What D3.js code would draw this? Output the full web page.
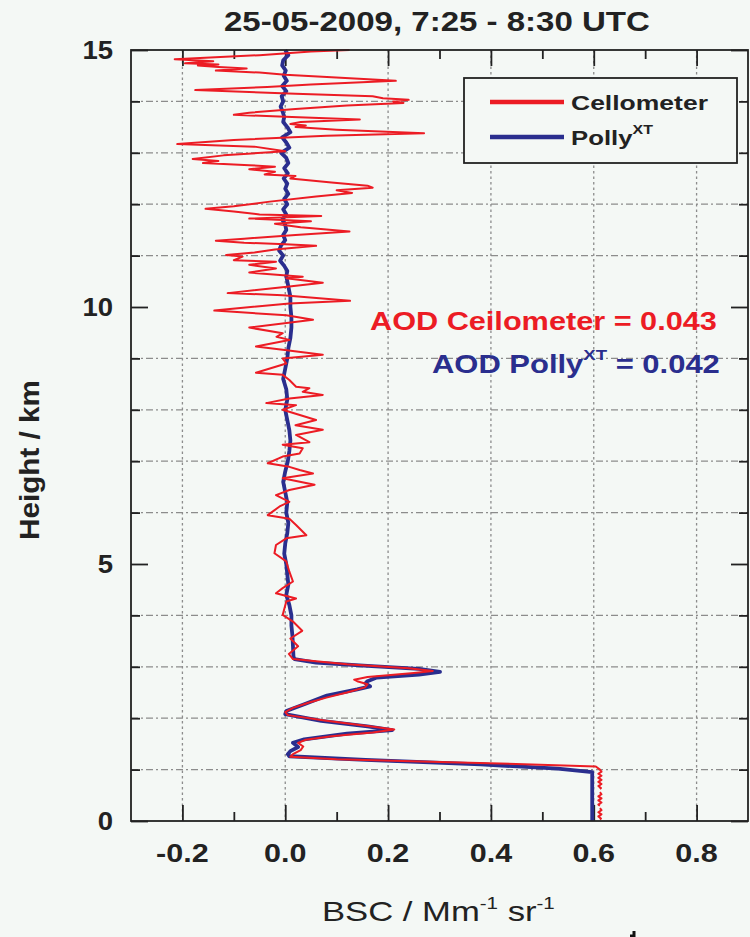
<!DOCTYPE html>
<html>
<head>
<meta charset="utf-8">
<script src="https://cdn.jsdelivr.net/npm/d3@7"></script>
<style>
  html, body { margin: 0; padding: 0; background: #f4f8f5; }
  svg { display: block; font-family: "Liberation Sans", Arial, Helvetica, sans-serif; }
</style>
</head>
<body>
<svg id="chart" width="750" height="937"></svg>
<script>
// ---- data -------------------------------------------------------------
const titleText = "25-05-2009, 7:25 - 8:30 UTC";
const bscDomain = [-0.3, 0.9];
const heightDomain = [0, 15];
const bscMajorTicks = [-0.2, 0.0, 0.2, 0.4, 0.6, 0.8];
const bscMinorTicks = [-0.1, 0.1, 0.3, 0.5, 0.7];
const heightMajorTicks = [0, 5, 10, 15];
const heightMinorTicks = [1, 2, 3, 4, 6, 7, 8, 9, 11, 12, 13, 14];
const seriesNames = ["Cellometer", "Polly"];
const seriesSup = ["", "XT"];
const seriesColors = ["#ec1c24", "#2a2e8e"];
const aodLabels = ["AOD Ceilometer", "AOD Polly"];
const aodValues = [0.043, 0.042];

// [height km, backscatter Mm-1 sr-1]; null marks a gap in the record
const ceilometerProfile = [
  [15.00,0.125],[14.97,0.05],[14.90,-0.05],[14.82,-0.215],[14.78,-0.14],[14.74,-0.195],
  [14.72,-0.13],[14.70,-0.17],[14.67,-0.13],[14.64,-0.075],[14.60,-0.135],[14.56,-0.05],
  [14.52,0.0],[14.47,0.09],[14.40,0.215],[14.33,0.05],[14.28,-0.035],[14.22,-0.175],
  [14.15,0.02],[14.10,0.17],[14.06,0.19],[14.03,0.24],[14.00,0.21],[13.97,0.23],
  [13.92,0.12],[13.85,0.02],[13.78,-0.07],[13.74,-0.10],[13.70,0.0],[13.65,0.145],
  [13.60,0.03],[13.56,0.01],[13.53,0.04],[13.50,0.02],[13.45,0.10],[13.38,0.27],
  [13.33,0.08],[13.25,-0.10],[13.17,-0.21],[13.12,-0.06],[13.03,0.0],[12.95,-0.12],
  [12.88,-0.18],[12.84,-0.13],[12.80,-0.16],[12.76,-0.07],[12.73,-0.02],[12.68,-0.07],
  [12.63,-0.02],[12.58,-0.04],[12.55,0.02],[12.50,0.01],[12.42,0.09],[12.36,0.16],
  [12.32,0.17],[12.27,0.10],[12.22,0.13],[12.15,0.06],[12.05,-0.03],[11.96,-0.10],
  [11.91,-0.155],[11.86,-0.10],[11.80,-0.05],[11.77,0.07],[11.72,-0.07],[11.67,0.05],
  [11.62,-0.02],[11.55,0.03],[11.47,0.125],[11.40,0.02],[11.33,-0.08],[11.29,-0.135],
  [11.25,-0.08],[11.22,0.0],[11.19,0.06],[11.12,-0.02],[11.06,-0.06],[11.01,-0.115],
  [10.98,-0.083],[10.91,-0.10],[10.88,-0.018],[10.82,-0.07],[10.75,-0.018],[10.67,-0.07],
  [10.59,0.034],[10.56,0.002],[10.47,0.073],[10.40,0.008],[10.27,-0.112],[10.23,-0.005],
  [10.12,0.126],[10.07,0.008],[9.93,-0.138],[9.84,0.002],[9.75,0.054],[9.60,-0.07],
  [9.49,-0.005],[9.42,-0.017],[9.36,0.008],[9.23,-0.057],[9.17,-0.005],[9.07,0.073],
  [9.00,-0.005],[8.90,0.002],[8.72,-0.057],[8.68,-0.005],[8.58,0.008],[8.45,0.021],
  [8.42,0.047],[8.35,0.034],[8.29,0.073],[8.22,0.008],[8.13,-0.037],[8.09,0.021],
  [8.00,-0.005],[7.80,0.060],[7.70,0.02],[7.61,0.073],[7.51,0.021],[7.37,0.047],
  [7.32,-0.005],[7.25,0.034],[7.15,0.028],[7.09,-0.005],[6.96,-0.034],[6.89,0.008],
  [6.83,0.028],[6.76,0.054],[6.67,-0.005],[6.54,0.057],[6.44,0.008],[6.34,-0.018],
  [6.21,0.008],[6.12,-0.011],[5.95,-0.034],[5.88,0.008],[5.76,0.021],[5.56,0.041],
  [5.50,0.002],[5.37,-0.018],[5.21,-0.021],[5.05,0.002],[4.85,0.008],[4.66,0.015],
  [4.53,-0.005],[4.43,-0.018],[4.33,0.021],[4.27,0.002],[4.01,-0.005],[3.88,0.015],
  [3.70,0.033],[3.55,0.010],[3.40,0.025],[3.25,0.007],[3.15,0.015],[3.05,0.12],
  [2.97,0.24],[2.92,0.287],[2.88,0.25],[2.80,0.16],[2.75,0.134],[2.72,0.14],
  [2.66,0.16],[2.60,0.155],[2.50,0.12],[2.40,0.08],[2.30,0.045],[2.20,0.015],
  [2.12,0.0],[2.06,0.005],[1.95,0.08],[1.85,0.16],[1.78,0.212],[1.72,0.17],
  [1.65,0.09],[1.58,0.04],[1.52,0.025],[1.45,0.035],[1.38,0.03],[1.30,0.015],
  [1.25,0.01],[1.20,0.10],[1.15,0.30],[1.10,0.48],[1.06,0.604],[1.00,0.612],
  [0.96,0.615],[0.92,0.609],[0.88,0.615],[0.84,0.609],[0.80,0.615],[0.76,0.609],
  [0.72,0.615],[0.68,0.609],[0.64,0.614],[0.62,0.612],[0.59,null],
  [0.56,0.612],[0.52,0.615],[0.48,0.609],[0.44,0.615],[0.40,0.609],[0.36,0.615],
  [0.32,0.609],[0.30,0.612],[0.27,null],
  [0.25,0.612],[0.21,0.615],[0.17,0.609],[0.13,0.615],[0.09,0.609],[0.05,0.614],[0.03,0.612]
];

const pollyProfile = [
  [15.0,0.0],[14.9,0.006],[14.8,-0.004],[14.7,-0.006],[14.6,0.001],[14.5,-0.003],
  [14.4,0.003],[14.3,-0.006],[14.2,0.002],[14.1,-0.007],[14.0,-0.004],[13.9,-0.009],
  [13.8,-0.005],[13.7,-0.002],[13.6,-0.004],[13.5,0.004],[13.4,0.01],[13.3,-0.006],
  [13.2,0.002],[13.1,0.008],[13.0,-0.008],[12.9,0.002],[12.8,0.006],[12.7,-0.002],
  [12.6,0.005],[12.5,-0.003],[12.4,0.004],[12.3,0.0],[12.2,0.006],[12.1,-0.002],
  [12.0,0.004],[11.9,-0.004],[11.8,0.002],[11.7,-0.006],[11.6,0.0],[11.5,0.002],
  [11.4,-0.004],[11.3,0.0],[11.2,-0.008],[11.1,-0.012],[11.0,-0.004],[10.9,-0.01],
  [10.8,-0.002],[10.7,0.004],[10.6,0.002],[10.5,0.004],[10.4,0.006],[10.3,0.008],
  [10.2,0.01],[10.0,0.01],[9.8,0.012],[9.6,0.012],[9.4,0.01],[9.2,0.006],
  [9.0,0.004],[8.8,0.0],[8.6,-0.004],[8.4,0.002],[8.2,0.004],[8.0,0.0],
  [7.8,0.004],[7.6,0.008],[7.4,0.01],[7.2,0.008],[7.0,0.005],[6.8,0.0],
  [6.6,-0.004],[6.4,0.0],[6.2,0.004],[6.0,0.002],[5.8,0.006],[5.6,0.004],
  [5.4,0.0],[5.2,-0.002],[5.0,0.002],[4.8,0.004],[4.6,0.006],[4.4,0.002],
  [4.2,0.008],[4.0,0.012],[3.8,0.012],[3.6,0.014],[3.4,0.015],[3.2,0.016],
  [3.15,0.018],[3.08,0.06],[3.02,0.16],[2.96,0.26],[2.90,0.301],[2.85,0.26],
  [2.79,0.178],[2.72,0.16],[2.68,0.156],[2.62,0.165],[2.56,0.14],[2.44,0.081],
  [2.27,0.037],[2.14,0.002],[2.08,0.0],[1.95,0.07],[1.84,0.16],[1.77,0.208],
  [1.70,0.12],[1.59,0.037],[1.52,0.015],[1.44,0.025],[1.36,0.01],[1.30,0.005],
  [1.26,0.008],[1.19,0.156],[1.10,0.38],[1.02,0.53],[0.95,0.597],[0.0,0.597]
];

// ---- layout -----------------------------------------------------------
const svg = d3.select("#chart");
const plot = { left: 131, right: 748, top: 50, bottom: 821 };
const x = d3.scaleLinear().domain(bscDomain).range([plot.left, plot.right]);
const y = d3.scaleLinear().domain(heightDomain).range([plot.bottom, plot.top]);
const ink = "#222";
const gridColor = "#8c8c8c";

svg.append("rect").attr("width", 750).attr("height", 937).attr("fill", "#f4f8f5");

// Stretch a text group horizontally so it spans the given width.
function fitGroup(g, left, baseline, width) {
  const w = g.node().getBBox().width;
  g.attr("transform", `translate(${left},${baseline}) scale(${width / w},1)`);
}

// grid
const grid = svg.append("g");
grid.selectAll("line.h").data(heightMinorTicks).join("line")
  .attr("x1", plot.left).attr("x2", plot.right)
  .attr("y1", d => y(d)).attr("y2", d => y(d))
  .attr("stroke", gridColor).attr("stroke-width", 1.3)
  .attr("stroke-dasharray", "7,3,2,3");
grid.selectAll("line.v").data(bscMajorTicks).join("line")
  .attr("x1", d => x(d)).attr("x2", d => x(d))
  .attr("y1", plot.top).attr("y2", plot.bottom)
  .attr("stroke", gridColor).attr("stroke-width", 1.3)
  .attr("stroke-dasharray", "2.5,3");

// axes: ticks point inward on all four sides
function tickAxis(axis, pos, values, size) {
  const g = svg.append("g").attr("transform", pos)
    .call(axis.tickValues(values).tickSize(-size).tickFormat(""));
  g.select(".domain").remove();
  g.selectAll(".tick line").attr("stroke", ink).attr("stroke-width", 1.8);
  return g;
}
tickAxis(d3.axisBottom(x), `translate(0,${plot.bottom})`, bscMajorTicks, 16);
tickAxis(d3.axisBottom(x), `translate(0,${plot.bottom})`, bscMinorTicks, 9);
tickAxis(d3.axisTop(x), `translate(0,${plot.top})`, bscMajorTicks, 16);
tickAxis(d3.axisTop(x), `translate(0,${plot.top})`, bscMinorTicks, 9);
tickAxis(d3.axisLeft(y), `translate(${plot.left},0)`, heightMajorTicks, 17);
tickAxis(d3.axisLeft(y), `translate(${plot.left},0)`, heightMinorTicks, 9);
tickAxis(d3.axisRight(y), `translate(${plot.right},0)`, heightMajorTicks, 17);
tickAxis(d3.axisRight(y), `translate(${plot.right},0)`, heightMinorTicks, 9);

// tick labels
const xLab = svg.append("g").selectAll("text").data(bscMajorTicks).join("text")
  .attr("x", d => x(d)).attr("y", 862)
  .attr("text-anchor", "middle").attr("font-size", 25).attr("font-weight", "bold")
  .attr("fill", ink).text(d => d.toFixed(1));
xLab.each(function () {
  const len = this.getComputedTextLength();
  d3.select(this).attr("textLength", len * 1.22).attr("lengthAdjust", "spacingAndGlyphs");
});
const yLab = svg.append("g").selectAll("text").data(heightMajorTicks).join("text")
  .attr("x", 113).attr("y", d => y(d) + 9)
  .attr("text-anchor", "end").attr("font-size", 25).attr("font-weight", "bold")
  .attr("fill", ink).text(d => d);
yLab.each(function () {
  const len = this.getComputedTextLength();
  d3.select(this).attr("textLength", len * 1.1).attr("lengthAdjust", "spacingAndGlyphs");
});

// profiles
const line = d3.line()
  .defined(d => d[1] !== null)
  .x(d => x(d[1])).y(d => y(d[0]));
svg.append("path").datum(pollyProfile).attr("d", line)
  .attr("fill", "none").attr("stroke", seriesColors[1]).attr("stroke-width", 3.8)
  .attr("stroke-linejoin", "round");
svg.append("path").datum(ceilometerProfile).attr("d", line)
  .attr("fill", "none").attr("stroke", seriesColors[0]).attr("stroke-width", 2)
  .attr("stroke-linejoin", "round");

// frame
svg.append("rect")
  .attr("x", plot.left).attr("y", plot.top)
  .attr("width", plot.right - plot.left).attr("height", plot.bottom - plot.top)
  .attr("fill", "none").attr("stroke", ink).attr("stroke-width", 1.8);

// title
const tg = svg.append("g");
tg.append("text").attr("font-size", 28).attr("font-weight", "bold").attr("fill", ink).text(titleText);
fitGroup(tg, 224, 31, 426);

// axis titles
const xt = svg.append("g");
const xtText = xt.append("text").attr("font-size", 27).attr("fill", ink);
xtText.append("tspan").text("BSC / Mm");
xtText.append("tspan").attr("font-size", 16).attr("dy", -12).text("-1");
xtText.append("tspan").attr("dy", 12).text(" sr");
xtText.append("tspan").attr("font-size", 16).attr("dy", -12).text("-1");
fitGroup(xt, 322, 921, 233);

const yt = svg.append("g");
yt.append("text").attr("font-size", 27).attr("font-weight", "bold").attr("fill", ink)
  .attr("text-anchor", "middle").text("Height / km");
{
  const w = yt.node().getBBox().width;
  yt.attr("transform", `translate(39,460) rotate(-90) scale(${160 / w},1)`);
}

// legend
const legend = svg.append("g");
legend.append("rect").attr("x", 464).attr("y", 78).attr("width", 273).attr("height", 85)
  .attr("fill", "#f4f8f5").attr("stroke", ink).attr("stroke-width", 1.8);
const legendRows = [102, 137];
seriesNames.forEach((name, i) => {
  legend.append("line").attr("x1", 490).attr("x2", 564)
    .attr("y1", legendRows[i]).attr("y2", legendRows[i])
    .attr("stroke", seriesColors[i]).attr("stroke-width", 4.5);
  const lg = legend.append("g");
  const t = lg.append("text").attr("font-size", 21).attr("font-weight", "bold").attr("fill", ink);
  t.append("tspan").text(name);
  if (seriesSup[i]) t.append("tspan").attr("font-size", 13).attr("dy", -11).text(seriesSup[i]);
  fitGroup(lg, 571, legendRows[i] + 8, seriesSup[i] ? 82 : 137);
});

// optical depth annotations
const aodLayout = [{ left: 370, base: 330, width: 347 }, { left: 432, base: 373, width: 288 }];
aodLabels.forEach((label, i) => {
  const g = svg.append("g");
  const t = g.append("text").attr("font-size", 25).attr("font-weight", "bold").attr("fill", seriesColors[i]);
  t.append("tspan").text(label);
  if (seriesSup[i]) {
    t.append("tspan").attr("font-size", 15).attr("dy", -13).text(seriesSup[i]);
    t.append("tspan").attr("dy", 13).text(" = " + aodValues[i].toFixed(3));
  } else {
    t.append("tspan").text(" = " + aodValues[i].toFixed(3));
  }
  fitGroup(g, aodLayout[i].left, aodLayout[i].base, aodLayout[i].width);
});

// stroke fragment of the next caption line at the lower page edge
svg.append("path")
  .attr("d", "M634,931 L634,937 M630,936 L634,936")
  .attr("stroke", "#111").attr("stroke-width", 3).attr("fill", "none");
</script>
</body>
</html>
